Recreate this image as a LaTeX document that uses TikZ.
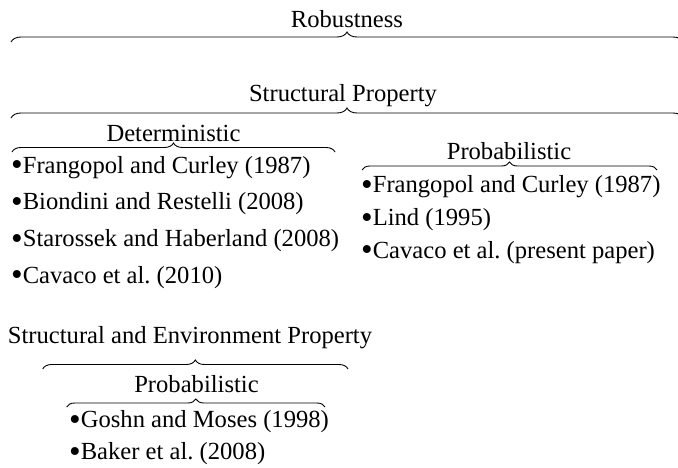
\documentclass[tikz,border=0pt]{standalone}
\usepackage{fontspec}
\setmainfont{Liberation Serif}
\usetikzlibrary{decorations.pathreplacing}
\newcommand{\bul}{\raisebox{-2.6pt}{\scalebox{1.35}{•}}}
\tikzset{
  lbl/.style={font=\fontsize{24.6}{28}\selectfont\frenchspacing, inner sep=0pt, anchor=base},
  item/.style={font=\fontsize{24.6}{28}\selectfont\frenchspacing, inner sep=0pt, anchor=base west},
  brc/.style={decorate, decoration={brace, amplitude=#1}, line width=0.9pt, black},
  brc/.default=9
}
\begin{document}
\begin{tikzpicture}[x=1pt,y=-1pt]
\useasboundingbox (0,0) rectangle (678,468);
% level labels
\node[lbl] (rob) at (347,28) {Robustness};
\node[lbl] (sp) at (343,102) {Structural Property};
\node[lbl] (det) at (173.5,142) {Deterministic};
\node[lbl] (prob) at (509,160) {Probabilistic};
\node[lbl] (sep) at (190,343.3) {Structural and Environment Property};
\node[lbl] (prob2) at (196.5,392) {Probabilistic};
% braces
\coordinate (b1l) at (11,42); \coordinate (b1r) at (683,42);
\coordinate (b2l) at (11,118); \coordinate (b2r) at (683,118);
\coordinate (b3l) at (12,152); \coordinate (b3r) at (335,152);
\coordinate (b4l) at (362,170); \coordinate (b4r) at (657,170);
\coordinate (b5l) at (42.7,369); \coordinate (b5r) at (348,369);
\coordinate (b6l) at (66.7,407); \coordinate (b6r) at (325,407);
\draw[brc=10] (b1l) -- (b1r);
\draw[brc=10] (b2l) -- (b2r);
\draw[brc=9] (b3l) -- (b3r);
\draw[brc=8] (b4l) -- (b4r);
\draw[brc=9] (b5l) -- (b5r);
\draw[brc=8] (b6l) -- (b6r);
% deterministic items
\node[item] (d1) at (11,173.3) {\bul Frangopol and Curley (1987)};
\node[item] (d2) at (11,210) {\bul Biondini and Restelli (2008)};
\node[item] (d3) at (11,246.7) {\bul Starossek and Haberland (2008)};
\node[item] (d4) at (11,283.3) {\bul Cavaco et al. (2010)};
% probabilistic items
\node[item] (p1) at (361,192.7) {\bul Frangopol and Curley (1987)};
\node[item] (p2) at (361,225.5) {\bul Lind (1995)};
\node[item] (p3) at (361,258.3) {\bul Cavaco et al. (present paper)};
% structural and environment items
\node[item] (e1) at (69,427.5) {\bul Goshn and Moses (1998)};
\node[item] (e2) at (69,459.5) {\bul Baker et al. (2008)};
\end{tikzpicture}
\end{document}
